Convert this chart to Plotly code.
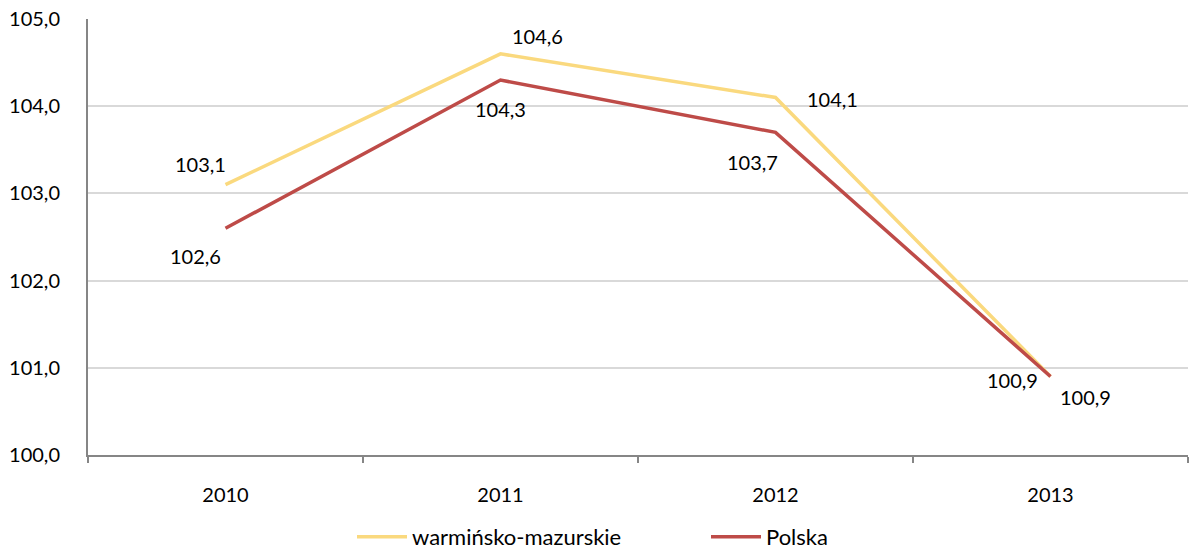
import plotly.graph_objects as go

years = ["2010", "2011", "2012", "2013"]
warm = [103.1, 104.6, 104.1, 100.9]
polska = [102.6, 104.3, 103.7, 100.9]
warm_label_shift = [(-25, 21), (37, 18), (57, -2), (35, -20)]
pol_label_shift = [(-30, -28), (0, -29), (-23, -30), (-38, -3)]

YELLOW = "#FAD97E"
RED = "#BE4B48"
FONT = "Lato, Carlito, sans-serif"

fig = go.Figure()
fig.add_trace(go.Scatter(x=years, y=warm, mode="lines", name="warmińsko-mazurskie",
                         line=dict(color=YELLOW, width=3.5)))
fig.add_trace(go.Scatter(x=years, y=polska, mode="lines", name="Polska",
                         line=dict(color=RED, width=3.5)))

for vals, shifts in ((warm, warm_label_shift), (polska, pol_label_shift)):
    for i, (v, (dx, dy)) in enumerate(zip(vals, shifts)):
        fig.add_annotation(x=i, y=v, xref="x", yref="y", text=f"{v:.1f}".replace(".", ","),
                           showarrow=False, xshift=dx, yshift=dy,
                           font=dict(family=FONT, size=20, color="#000"))

fig.update_layout(
    width=1190, height=551,
    margin=dict(l=88, r=2, t=19, b=96),
    plot_bgcolor="white", paper_bgcolor="white",
    separators=", ",
    font=dict(family=FONT, size=20, color="#000"),
    showlegend=True,
    legend=dict(orientation="h", x=352 / 1190, xref="container", xanchor="left",
                y=(551 - 537) / 551, yref="container", yanchor="middle",
                font=dict(family=FONT, size=22, color="#000"),
                itemwidth=50, tracegroupgap=0, entrywidth=289, entrywidthmode="pixels"),
)
fig.update_xaxes(type="category", showgrid=False, showline=True, linecolor="#868686", linewidth=2,
                 ticks="outside", tickson="boundaries", ticklen=6, tickcolor="#868686", tickwidth=2,
                 tickfont=dict(size=20), ticklabelstandoff=21, range=[-0.5, 3.5])
fig.update_yaxes(range=[100, 105], dtick=1, tickformat=".1f", showgrid=True, gridcolor="#D9D9D9",
                 gridwidth=2, showline=True, linecolor="#868686", linewidth=2, ticks="",
                 tickfont=dict(size=20), ticklabelstandoff=22, zeroline=False)

fig.write_html("out.html", config={"displayModeBar": False},
               post_script="document.body.style.margin='0';")
